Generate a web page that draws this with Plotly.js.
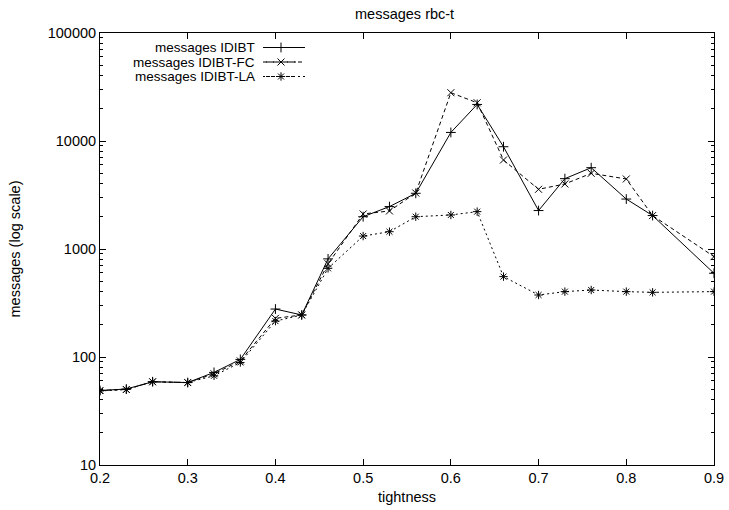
<!DOCTYPE html>
<html>
<head>
<meta charset="utf-8">
<script src="https://cdn.plot.ly/plotly-3.0.1.min.js"></script>
<style>html,body{margin:0;padding:0;background:#fff;}#chart{width:729px;height:510px;}</style>
</head>
<body>
<div id="chart"></div>
<script>
const tightness = [0.2, 0.23, 0.26, 0.3, 0.33, 0.36, 0.4, 0.43, 0.46, 0.5, 0.53, 0.56, 0.6, 0.63, 0.66, 0.7, 0.73, 0.76, 0.8, 0.83, 0.9];
const idibt   = [49, 50.5, 59, 58, 72, 95, 278, 245, 810, 1990, 2470, 3280, 12000, 21800, 8850, 2270, 4480, 5660, 2900, 2040, 596];
const idibtFC = [49, 50, 59, 58, 70, 92, 228, 245, 730, 2110, 2250, 3300, 28000, 22600, 6670, 3570, 4000, 5020, 4450, 2040, 850];
const idibtLA = [48.5, 50, 59, 58, 67, 89, 215, 245, 662, 1318, 1446, 1990, 2066, 2218, 555, 375, 403, 417, 403, 397, 403];
const seriesNames = ['messages IDIBT', 'messages IDIBT-FC', 'messages IDIBT-LA'];
const yTickVals = [10, 100, 1000, 10000, 100000];
const yTickText = ['10', '100', '1000', '10000', '100000'];
const xTickVals = [0.2, 0.3, 0.4, 0.5, 0.6, 0.7, 0.8, 0.9];
const minorDigits = [2, 3, 4, 5, 6, 7, 8, 9];

const FONT = 'Liberation Sans, Arial, sans-serif';
const FS = 14.5;
const LFS = 13.5;

const yMinorVals = [];
yTickVals.slice(0, -1).forEach(d => minorDigits.forEach(m => yMinorVals.push(d * m)));

const dashes = ['solid', '4px,3px', '2px,3px'];
const symbols = ['cross-thin-open', 'x-thin-open', 'asterisk-open'];
const legendIds = ['legend', 'legend2', 'legend3'];
const seriesData = [idibt, idibtFC, idibtLA];

const data = seriesData.map((y, i) => ({
  x: tightness, y: y, type: 'scatter', mode: 'lines+markers',
  name: ' ', legend: legendIds[i],
  line: {color: '#000', width: 1, dash: dashes[i]},
  marker: {symbol: symbols[i], size: 7, color: '#000', line: {color: '#000', width: 1}}
}));

const L = 100, R = 15, T = 33, B = 45;
const plotW = 729 - L - R, plotH = 510 - T - B;
const rowsY = [47.5, 62, 76.5];
const px2x = p => (p - L) / plotW;
const px2y = p => (510 - B - p) / plotH;

const annotations = seriesNames.map((n, i) => ({
  text: n, xref: 'paper', yref: 'paper',
  x: px2x(257), y: px2y(rowsY[i]),
  xanchor: 'right', yanchor: 'middle', showarrow: false,
  font: {family: FONT, size: LFS, color: '#000'}
}));

const shapes = rowsY.map((r, i) => ({
  type: 'line', xref: 'paper', yref: 'paper',
  x0: px2x(263), x1: px2x(305), y0: px2y(r), y1: px2y(r),
  line: {color: '#000', width: 1, dash: dashes[i]}
}));

const layout = {
  width: 729, height: 510,
  margin: {l: L, r: R, t: T, b: B},
  paper_bgcolor: '#fff', plot_bgcolor: '#fff',
  font: {family: FONT, size: FS, color: '#000'},
  title: {text: 'messages rbc-t', x: 0.555, xanchor: 'center', y: 1 - 14 / 510, yanchor: 'middle',
          font: {family: FONT, size: FS, color: '#000'}},
  showlegend: true,
  xaxis: {
    range: [0.2, 0.9], tickvals: xTickVals, tickformat: '.1f',
    ticks: 'inside', ticklen: 6, tickcolor: '#000', tickwidth: 1,
    showline: true, linecolor: '#000', linewidth: 1, mirror: 'ticks',
    showgrid: false, zeroline: false,
    title: {text: 'tightness', font: {family: FONT, size: FS}, standoff: 6},
    tickfont: {family: FONT, size: FS}
  },
  yaxis: {
    type: 'log', range: [1, 5], tickvals: yTickVals, ticktext: yTickText,
    ticks: 'inside', ticklen: 6, tickcolor: '#000', tickwidth: 1,
    showline: true, linecolor: '#000', linewidth: 1, mirror: 'ticks',
    showgrid: false, zeroline: false,
    minor: {tickmode: 'array', tickvals: yMinorVals, ticks: 'inside', ticklen: 3, tickcolor: '#000', showgrid: false},
    title: {text: 'messages (log scale)', font: {family: FONT, size: FS}, standoff: 23},
    tickfont: {family: FONT, size: FS}
  },
  shapes: shapes,
  annotations: annotations
};
legendIds.forEach((id, i) => {
  layout[id] = {x: px2x(261), xanchor: 'left', y: px2y(rowsY[i]), yanchor: 'middle',
                bgcolor: 'rgba(0,0,0,0)', borderwidth: 0, font: {family: FONT, size: 10}, itemwidth: 30};
});

Plotly.newPlot('chart', data, layout, {displayModeBar: false, staticPlot: true});
</script>
</body>
</html>
